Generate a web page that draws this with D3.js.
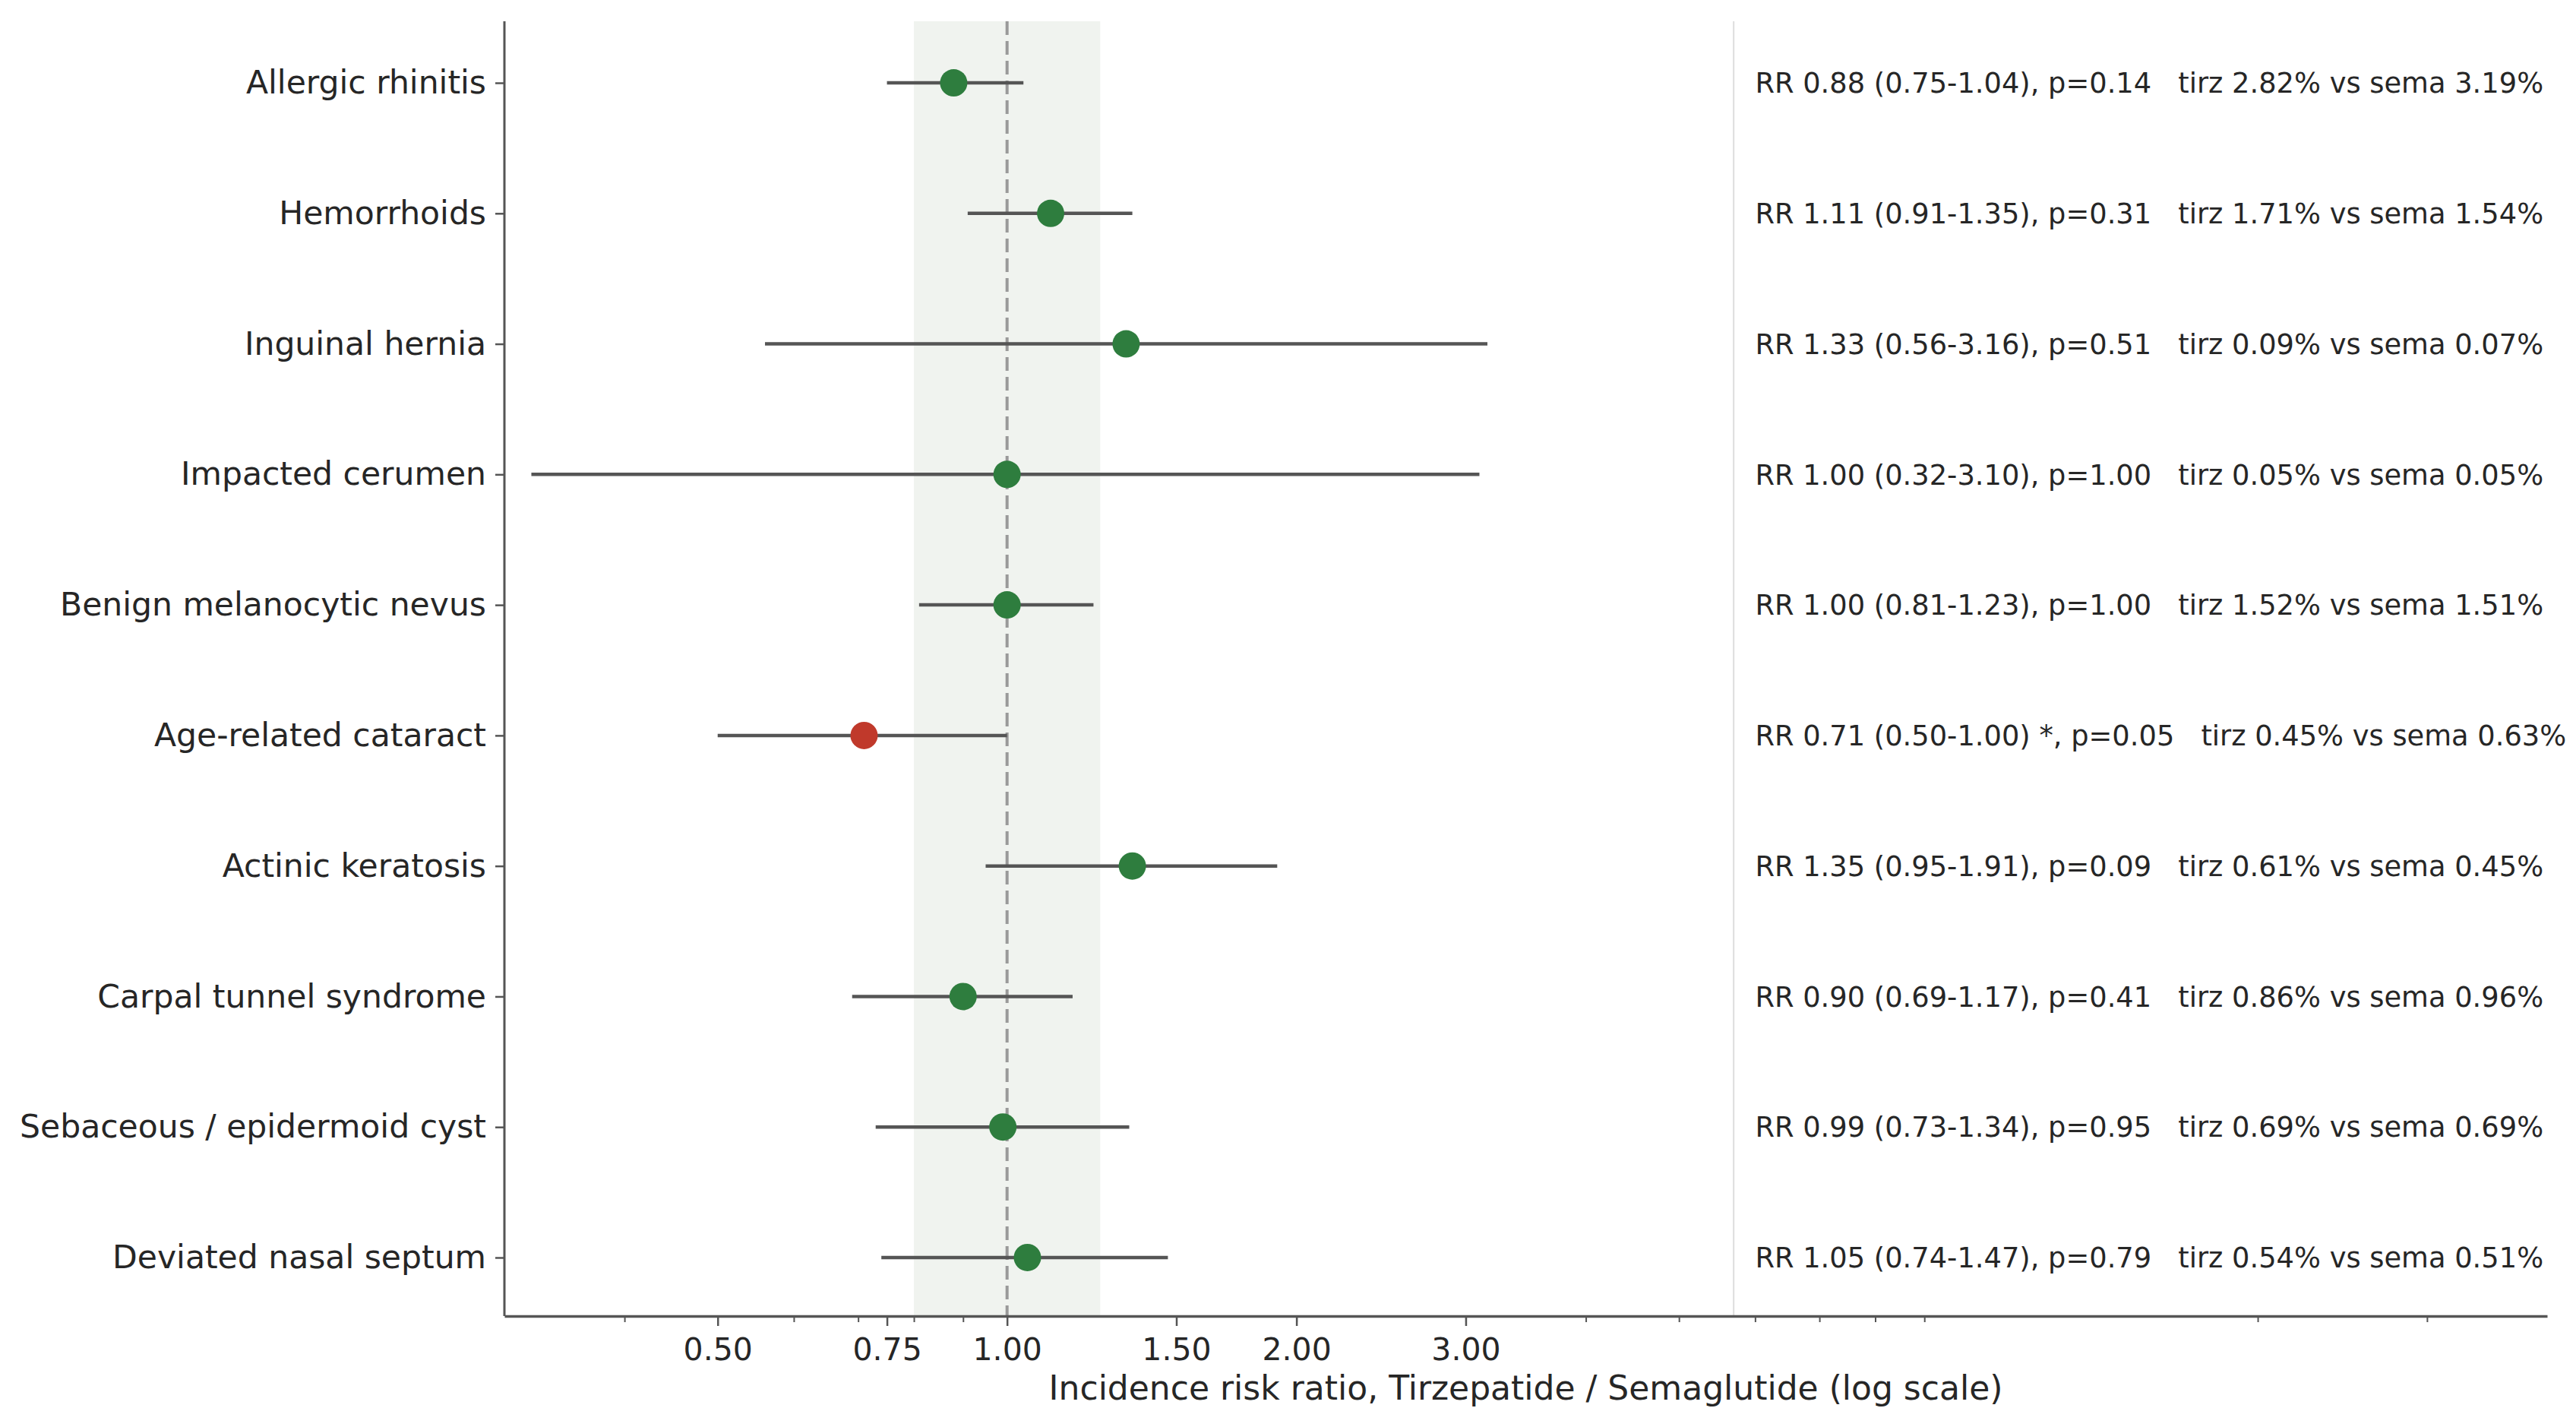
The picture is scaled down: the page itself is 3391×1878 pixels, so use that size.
<!DOCTYPE html>
<html>
<head>
<meta charset="utf-8">
<script src="https://cdn.jsdelivr.net/npm/d3@7"></script>
<style>
  body { margin: 0; background: #fff; }
  text { font-family: "DejaVu Sans", sans-serif; fill: #262626; }
</style>
</head>
<body>
<div class="chart"></div>
<script>
// data (top to bottom)
const conditions = ["Allergic rhinitis", "Hemorrhoids", "Inguinal hernia", "Impacted cerumen",
  "Benign melanocytic nevus", "Age-related cataract", "Actinic keratosis",
  "Carpal tunnel syndrome", "Sebaceous / epidermoid cyst", "Deviated nasal septum"];
const rr      = [0.88, 1.11, 1.33, 1.00, 1.00, 0.71, 1.35, 0.90, 0.99, 1.05];
const ciLow   = [0.75, 0.91, 0.56, 0.32, 0.81, 0.50, 0.95, 0.69, 0.73, 0.74];
const ciHigh  = [1.04, 1.35, 3.16, 3.10, 1.23, 1.00, 1.91, 1.17, 1.34, 1.47];
const pValues = ["0.14", "0.31", "0.51", "1.00", "1.00", "0.05", "0.09", "0.41", "0.95", "0.79"];
const tirzPct = ["2.82", "1.71", "0.09", "0.05", "1.52", "0.45", "0.61", "0.86", "0.69", "0.54"];
const semaPct = ["3.19", "1.54", "0.07", "0.05", "1.51", "0.63", "0.45", "0.96", "0.69", "0.51"];
const significant = [false, false, false, false, false, true, false, false, false, false];

const majorTicks = [0.5, 0.75, 1, 1.5, 2, 3];
const minorTicks = [0.4, 0.6, 0.7, 0.8, 0.9, 2, 3, 4, 5, 6, 7, 8, 9, 20, 30];
const xDomain = [0.3, 40];
const band = [0.8, 1.25];      // shaded equivalence band
const separatorAt = 5.7;       // thin line before the text column
const textAt = 6;              // annotation column start

const rows = conditions.map((c, i) => ({
  name: c, rr: rr[i], lo: ciLow[i], hi: ciHigh[i], sig: significant[i],
  label: `RR ${rr[i].toFixed(2)} (${ciLow[i].toFixed(2)}-${ciHigh[i].toFixed(2)})${significant[i] ? " *" : ""}, p=${pValues[i]}   tirz ${tirzPct[i]}% vs sema ${semaPct[i]}%`
}));

const width = 3391, height = 1878;
const plot = {left: 664, right: 3353, top: 28, bottom: 1732};

const svg = d3.select(".chart")
  .append("svg")
    .attr("width", width)
    .attr("height", height);

const x = d3.scaleLog()
  .domain(xDomain)
  .range([plot.left, plot.right]);

const y = d3.scalePoint()
  .domain(conditions)
  .range([plot.top + 2, plot.bottom + 2])
  .padding(0.46);

// shaded band + reference line
svg.append("rect")
  .attr("x", x(band[0]))
  .attr("y", plot.top)
  .attr("width", x(band[1]) - x(band[0]))
  .attr("height", plot.bottom - plot.top)
  .attr("fill", "#f0f3ef");

svg.append("line")
  .attr("x1", x(1)).attr("x2", x(1))
  .attr("y1", plot.top).attr("y2", plot.bottom)
  .attr("stroke", "#999")
  .attr("stroke-width", 4)
  .attr("stroke-dasharray", "18,8");

svg.append("line")
  .attr("x1", x(separatorAt)).attr("x2", x(separatorAt))
  .attr("y1", plot.top).attr("y2", plot.bottom)
  .attr("stroke", "#ddd")
  .attr("stroke-width", 2);

// error bars
svg.selectAll(".ci")
  .data(rows)
  .enter()
  .append("line")
    .attr("class", "ci")
    .attr("x1", d => x(d.lo))
    .attr("x2", d => x(d.hi))
    .attr("y1", d => y(d.name))
    .attr("y2", d => y(d.name))
    .attr("stroke", "#555")
    .attr("stroke-width", 4.5);

// point estimates
svg.selectAll(".pt")
  .data(rows)
  .enter()
  .append("circle")
    .attr("class", "pt")
    .attr("cx", d => x(d.rr))
    .attr("cy", d => y(d.name))
    .attr("r", 18)
    .attr("fill", d => d.sig ? "#c0392b" : "#2e7d3e");

// annotation column
svg.selectAll(".note")
  .data(rows)
  .enter()
  .append("text")
    .attr("class", "note")
    .attr("x", x(textAt))
    .attr("y", d => y(d.name))
    .attr("dy", "0.36em")
    .style("font-size", "36.8px")
    .style("white-space", "pre")
    .attr("xml:space", "preserve")
    .text(d => d.label);

// X axis: minor ticks first, then major with labels
svg.append("g")
  .attr("transform", `translate(0, ${plot.bottom})`)
  .call(d3.axisBottom(x).tickValues(minorTicks).tickSize(8).tickFormat(""))
  .call(g => g.select(".domain").remove())
  .call(g => g.selectAll(".tick line").attr("stroke", "#555").attr("stroke-width", 2));

const xAxis = svg.append("g")
  .attr("transform", `translate(0, ${plot.bottom})`)
  .call(d3.axisBottom(x).tickValues(majorTicks).tickSize(13).tickSizeOuter(0).tickPadding(16).tickFormat(d3.format(".2f")));
xAxis.select(".domain").attr("stroke", "#555").attr("stroke-width", 3.5);
xAxis.selectAll(".tick line").attr("stroke", "#555").attr("stroke-width", 2.5);
xAxis.selectAll(".tick text").style("font-size", "41px").attr("fill", "#262626");

svg.append("text")
  .attr("x", (plot.left + plot.right) / 2)
  .attr("y", 1842)
  .attr("text-anchor", "middle")
  .style("font-size", "44px")
  .text("Incidence risk ratio, Tirzepatide / Semaglutide (log scale)");

// Y axis
const yAxis = svg.append("g")
  .attr("transform", `translate(${plot.left}, 0)`)
  .call(d3.axisLeft(y).tickSize(12).tickSizeOuter(0).tickPadding(12));
yAxis.select(".domain").attr("stroke", "#555").attr("stroke-width", 3)
  .attr("d", `M0,${plot.top}V${plot.bottom}`);
yAxis.selectAll(".tick line").attr("stroke", "#555").attr("stroke-width", 2.5);
yAxis.selectAll(".tick text").style("font-size", "42.5px").attr("fill", "#262626");
</script>
</body>
</html>
